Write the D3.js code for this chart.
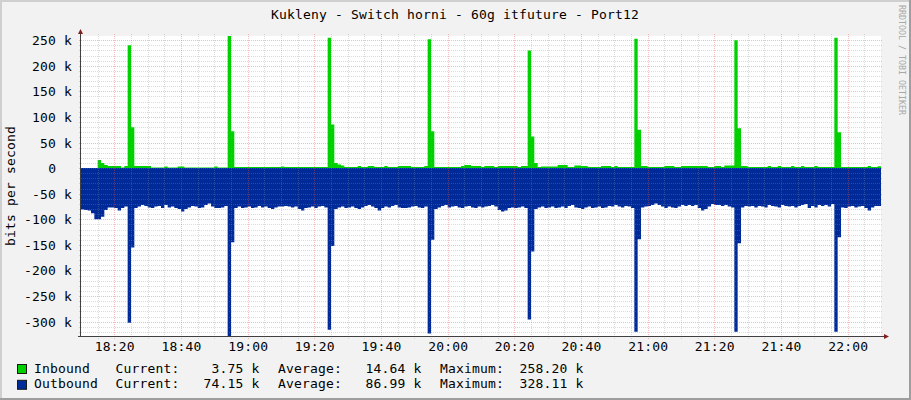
<!DOCTYPE html>
<html><head><meta charset="utf-8">
<script src="https://cdn.jsdelivr.net/npm/d3@7"></script>
<style>
html,body{margin:0;padding:0;background:#f2f2f2;}
svg{display:block;}
text{font-family:"DejaVu Sans Mono",monospace;}
</style></head><body>
<svg id="chart" width="911" height="400"></svg>
<script>
// ---------------- data ----------------
const chartTitle = "Kukleny - Switch horni - 60g itfuture - Port12";
const yAxisTitle = "bits per second";
const watermark = "RRDTOOL / TOBI OETIKER";
const startTime = "18:10";      // first sample
const stepMinutes = 1;          // one sample per minute
// inbound, kbit/s
const inbound = [
  0,0,0,0,0,16,10,6,4,4,
  4,4,1,4,240,80,4,4,4,4,
  4,1,1,1,1,3,1,1,1,3,
  3,1,1,1,1,1,1,1,1,1,
  3,1,1,1,258.2,72,2,2,2,2,
  2,2,2,2,2,2,2,2,2,2,
  3,2,2,2,2,2,2,2,2,2,
  2,2,2,2,255,85,10,7,5,2,
  2,2,2,4,2,2,4,4,2,2,
  2,4,2,2,2,4,4,4,4,2,
  2,2,2,4,252,72,2,2,2,2,
  2,2,2,2,4,6,6,4,4,4,
  2,4,4,4,2,4,4,4,4,4,
  4,2,4,4,230,62,10,2,3,3,
  3,3,3,6,6,6,2,2,5,5,
  4,4,2,2,2,2,4,4,4,2,
  4,2,2,2,2,2,253,75,4,4,
  2,2,2,2,2,4,4,4,2,2,
  4,4,4,4,4,4,4,4,2,2,
  4,4,2,5,5,5,250,78,4,4,
  2,2,2,2,2,2,4,2,2,4,
  2,2,2,4,2,2,4,2,2,2,
  4,2,2,2,2,2,255,70,2,2,
  2,2,2,2,2,2,4,2,2,3.75
];
// outbound, kbit/s (drawn below the zero line)
const outbound = [
  81,82,83,88,100,100,95,82,77,77,
  78,83,78,75,302,155,78,75,72,74,
  77,78,75,74,78,72,77,75,78,80,
  85,80,77,74,75,78,77,72,69,75,
  78,78,77,74,328.11,145,78,75,78,77,
  75,78,77,74,77,75,78,80,77,75,
  75,74,75,77,75,80,83,78,77,75,
  78,75,74,77,316,152,80,77,75,78,
  77,75,78,80,77,74,72,75,78,83,
  78,75,77,74,72,77,78,78,77,75,
  74,77,78,75,323,140,80,77,74,72,
  77,75,74,77,78,75,74,77,78,75,
  77,75,74,72,75,82,85,83,78,77,
  78,77,75,78,296,163,80,77,75,78,
  77,75,78,77,75,78,74,72,77,78,
  80,77,75,78,77,75,78,77,74,75,
  72,75,77,74,75,78,320,139,77,75,
  74,72,69,72,75,78,75,77,78,75,
  72,74,72,74,72,78,83,80,75,70,
  72,72,74,72,75,77,320,147,77,74,
  75,74,77,74,75,77,72,74,75,77,
  72,74,75,74,77,74,72,70,78,74,
  77,72,74,72,75,70,320,135,77,78,
  75,74,77,75,74,78,83,77,74,74.15
];
const yTickValues = [-300,-250,-200,-150,-100,-50,0,50,100,150,200,250];
const xTickLabels = ["18:20","18:40","19:00","19:20","19:40","20:00","20:20","20:40","21:00","21:20","21:40","22:00"];
const seriesNames = ["Inbound","Outbound"];
const seriesColors = ["#00cf00","#002a97"];
const currentVals = ["3.75 k","74.15 k"];
const averageVals = ["14.64 k","86.99 k"];
const maximumVals = ["258.20 k","328.11 k"];

// ---------------- drawing ----------------
const W = 911, H = 400;
const PL = 81, PR = 881, PT = 36, PB = 336;
const svg = d3.select("#chart");

const parse = d3.timeParse("%H:%M");
const t0 = parse(startTime);
const times = inbound.map((_, i) => d3.timeMinute.offset(t0, i * stepMinutes));
const tEnd = d3.timeMinute.offset(t0, inbound.length * stepMinutes);

const x = d3.scaleTime().domain([t0, tEnd]).range([PL, PR]);
const y = d3.scaleLinear().domain([-d3.max(outbound), d3.max(inbound)]).range([PB, PT]);

// background and 3D frame
svg.append("rect").attr("width", W).attr("height", H).attr("fill", "#f2f2f2");
svg.append("path").attr("d", `M0,0H${W}V2H2V${H}H0Z`).attr("fill", "#cfcfcf");
svg.append("path").attr("d", `M${W},0V${H}H0V${H-2}H${W-2}V0Z`).attr("fill", "#9e9e9e");

// canvas
svg.append("rect").attr("x", PL).attr("y", PT).attr("width", PR - PL).attr("height", PB - PT).attr("fill", "#ffffff");

// areas
const inData = inbound.map((v, i) => ({t: times[i], v})).concat([{t: tEnd, v: inbound[inbound.length - 1]}]);
const outData = outbound.map((v, i) => ({t: times[i], v: -v})).concat([{t: tEnd, v: -outbound[outbound.length - 1]}]);
const area = d3.area().curve(d3.curveStepAfter).x(d => x(d.t)).y0(y(0)).y1(d => y(d.v));
svg.append("path").datum(outData).attr("d", area).attr("fill", seriesColors[1]);
svg.append("path").datum(inData).attr("d", area).attr("fill", seriesColors[0]);

// grid (drawn over the graph, like rrdtool)
const minorCol = "rgba(143,143,143,0.32)";
const majorCol = "rgba(222,79,79,0.38)";
const grid = svg.append("g").attr("shape-rendering", "crispEdges");
const minorT = d3.timeMinute.every(5).range(d3.timeMinute.offset(t0, 1), tEnd);
const majorT = xTickLabels.map(s => parse(s));
const isMajorT = t => majorT.some(m => +m === +t);
minorT.filter(t => !isMajorT(t)).forEach(t => {
  const px = Math.round(x(t)) + 0.5;
  grid.append("line").attr("x1", px).attr("x2", px).attr("y1", PT - 2).attr("y2", PB + 3)
    .attr("stroke", minorCol).attr("stroke-dasharray", "1,1");
});
const minorY = d3.range(-320, 260, 10).filter(v => v % 50 !== 0);
minorY.forEach(v => {
  const py = Math.round(y(v)) + 0.5;
  grid.append("line").attr("x1", PL - 2).attr("x2", PR + 2).attr("y1", py).attr("y2", py)
    .attr("stroke", minorCol).attr("stroke-dasharray", "1,1");
});
majorT.forEach(t => {
  const px = Math.round(x(t)) + 0.5;
  grid.append("line").attr("x1", px).attr("x2", px).attr("y1", PT - 2).attr("y2", PB + 3)
    .attr("stroke", majorCol).attr("stroke-dasharray", "1,1");
});
yTickValues.forEach(v => {
  const py = Math.round(y(v)) + 0.5;
  grid.append("line").attr("x1", PL - 2).attr("x2", PR + 2).attr("y1", py).attr("y2", py)
    .attr("stroke", majorCol).attr("stroke-dasharray", "1,1");
});

// axes
const ax = svg.append("g").attr("shape-rendering", "crispEdges");
ax.append("line").attr("x1", PL - 0.5).attr("x2", PL - 0.5).attr("y1", PB + 1).attr("y2", PT - 3)
  .attr("stroke", "#404040");
ax.append("line").attr("x1", PL - 3).attr("x2", PR + 5).attr("y1", PB + 0.5).attr("y2", PB + 0.5)
  .attr("stroke", "#404040");
svg.append("path").attr("d", `M${PL-3},${PT-2}L${PL+2},${PT-2}L${PL-0.5},${PT-7}Z`).attr("fill", "#801f1f");
svg.append("path").attr("d", `M${PR+3},${PB-2}L${PR+3},${PB+3}L${PR+8},${PB+0.5}Z`).attr("fill", "#801f1f");

// y tick labels
const tx = svg.append("g").attr("fill", "#000").style("font-size", "13px").style("letter-spacing", "0.17px");
yTickValues.forEach(v => {
  const isZero = v === 0;
  tx.append("text").attr("x", isZero ? 56.3 : 72).attr("y", y(v) + 5)
    .attr("text-anchor", "end").text(isZero ? "0" : `${v} k`);
});
// x tick labels
majorT.forEach((t, i) => {
  tx.append("text").attr("x", x(t) + 0.5).attr("y", 351).attr("text-anchor", "middle").text(xTickLabels[i]);
});

// title
tx.append("text").attr("x", 455).attr("y", 19).attr("text-anchor", "middle").text(chartTitle);
// y axis title
tx.append("text").attr("transform", `translate(15,${(PT + PB) / 2}) rotate(-90)`)
  .attr("text-anchor", "middle").text(yAxisTitle);
// watermark
svg.append("text").attr("transform", "translate(898.5,5) rotate(90)")
  .style("font-size", "8.3px").attr("fill", "#a8a8a8").text(watermark);

// legend
const baselines = [372.5, 388.3];
seriesNames.forEach((name, i) => {
  const by = baselines[i];
  svg.append("rect").attr("x", 17.5).attr("y", by - 8).attr("width", 9).attr("height", 9)
    .attr("fill", seriesColors[i]).attr("stroke", "#1a1a1a").attr("stroke-width", 1);
  tx.append("text").attr("x", 34).attr("y", by).text(name);
  tx.append("text").attr("x", 115.5).attr("y", by).text("Current:");
  tx.append("text").attr("x", 259.5).attr("y", by).attr("text-anchor", "end").text(currentVals[i]);
  tx.append("text").attr("x", 278).attr("y", by).text("Average:");
  tx.append("text").attr("x", 421.5).attr("y", by).attr("text-anchor", "end").text(averageVals[i]);
  tx.append("text").attr("x", 440).attr("y", by).text("Maximum:");
  tx.append("text").attr("x", 583.5).attr("y", by).attr("text-anchor", "end").text(maximumVals[i]);
});
</script>
</body></html>
